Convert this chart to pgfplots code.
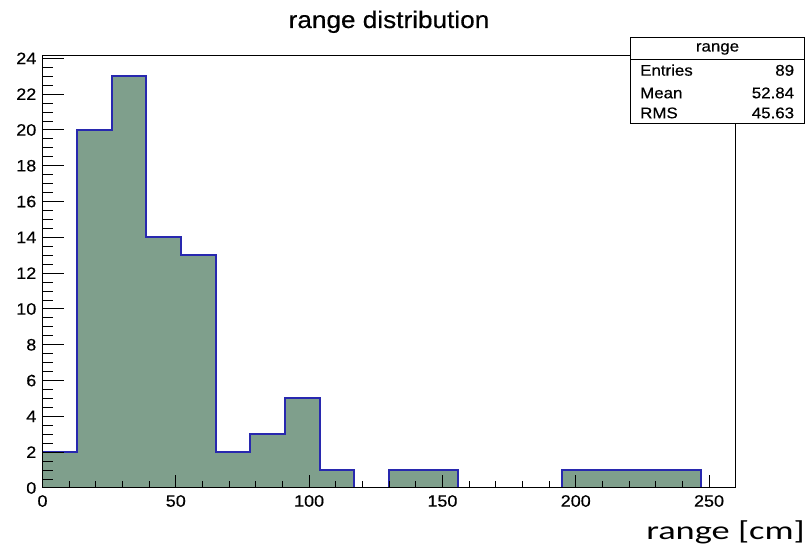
\documentclass[border=0pt]{standalone}
\usepackage{pgfplots}
\pgfplotsset{compat=1.18}
\usepackage{fontspec}
\setmainfont{Liberation Sans}[FakeStretch=1.09, FakeBold=0.4]
\newfontfamily\calibri{Carlito}[FakeStretch=1.40]
\definecolor{histfill}{RGB}{127,159,140}
\definecolor{histblue}{RGB}{40,40,175}
\pgfplotstableread{
x y
0 2
13 20
26 23
39 14
52 13
65 2
78 3
91 5
104 1
117 0
130 1
143 1
156 0
169 0
182 0
195 1
208 1
221 1
234 1
247 0
260 0
}\histdata
\begin{document}
\begin{tikzpicture}[x=1pt,y=1pt]
\useasboundingbox (0,0) rectangle (809,559);
\begin{axis}[at={(42.5pt,71pt)}, anchor=south west, scale only axis,
  width=693.2pt, height=432.3pt,
  xmin=0, xmax=260, ymin=0, ymax=24.15,
  axis on top, tick align=inside, xtick pos=bottom,
  ytick=\empty, xtick={0,50,...,250}, minor x tick num=4,
  major tick length=13pt, minor tick length=6.5pt,
  axis line style={line width=1pt},
  tick style={black, line width=1pt},
  ticklabel style={font=\fontsize{16.5}{18}\selectfont},
  /pgf/number format/assume math mode=true,
  xticklabel style={inner sep=0pt, anchor=north, yshift=-7pt}]
\addplot[const plot mark left, fill=histfill, draw=none] table[x=x,y=y] {\histdata} \closedcycle;
\addplot[const plot mark left, draw=histblue, line width=2pt] coordinates {(0,2) (13,20) (26,23) (39,14) (52,13) (65,2) (78,3) (91,5) (104,1) (117,0)};
\addplot[const plot mark left, draw=histblue, line width=2pt] coordinates {(130,0) (130,1) (143,1) (156,0)};
\addplot[const plot mark left, draw=histblue, line width=2pt] coordinates {(195,0) (195,1) (208,1) (221,1) (234,1) (247,0)};
\end{axis}
\begin{axis}[at={(42.5pt,71pt)}, anchor=south west, scale only axis,
  width=693.2pt, height=432.3pt,
  xmin=0, xmax=260, ymin=0, ymax=24.15,
  tick align=inside, ytick pos=left,
  xtick=\empty, ytick={0,2,...,24}, minor y tick num=3,
  major tick length=21pt, minor tick length=10.5pt,
  axis line style={line width=1pt},
  tick style={black, line width=1pt},
  ticklabel style={font=\fontsize{16.5}{18}\selectfont},
  /pgf/number format/assume math mode=true,
  yticklabel style={inner sep=0pt, anchor=east, xshift=-6pt}]
\end{axis}
\draw[line width=1pt, fill=white] (630.7,435) rectangle (804.3,521.7);
\draw[line width=1pt] (630.7,499) -- (804.3,499);
\begin{scope}[every node/.style={inner sep=0pt, font=\fontsize{15.5}{17}\selectfont}]
\node[anchor=base] at (717.5,507.5) {range};
\node[anchor=base west] at (640,483.3) {Entries};
\node[anchor=base east] at (794.3,483.3) {89};
\node[anchor=base west] at (640,460.7) {Mean};
\node[anchor=base east] at (794.3,460.7) {52.84};
\node[anchor=base west] at (640,440.7) {RMS};
\node[anchor=base east] at (794.3,440.7) {45.63};
\end{scope}
\node[anchor=base, inner sep=0pt, font=\fontsize{24}{26}\selectfont] at (389,531) {range distribution};
\node[anchor=base east, inner sep=0pt, font=\calibri\fontsize{26}{28}\selectfont] at (805,19) {range [cm]};
\end{tikzpicture}
\end{document}
